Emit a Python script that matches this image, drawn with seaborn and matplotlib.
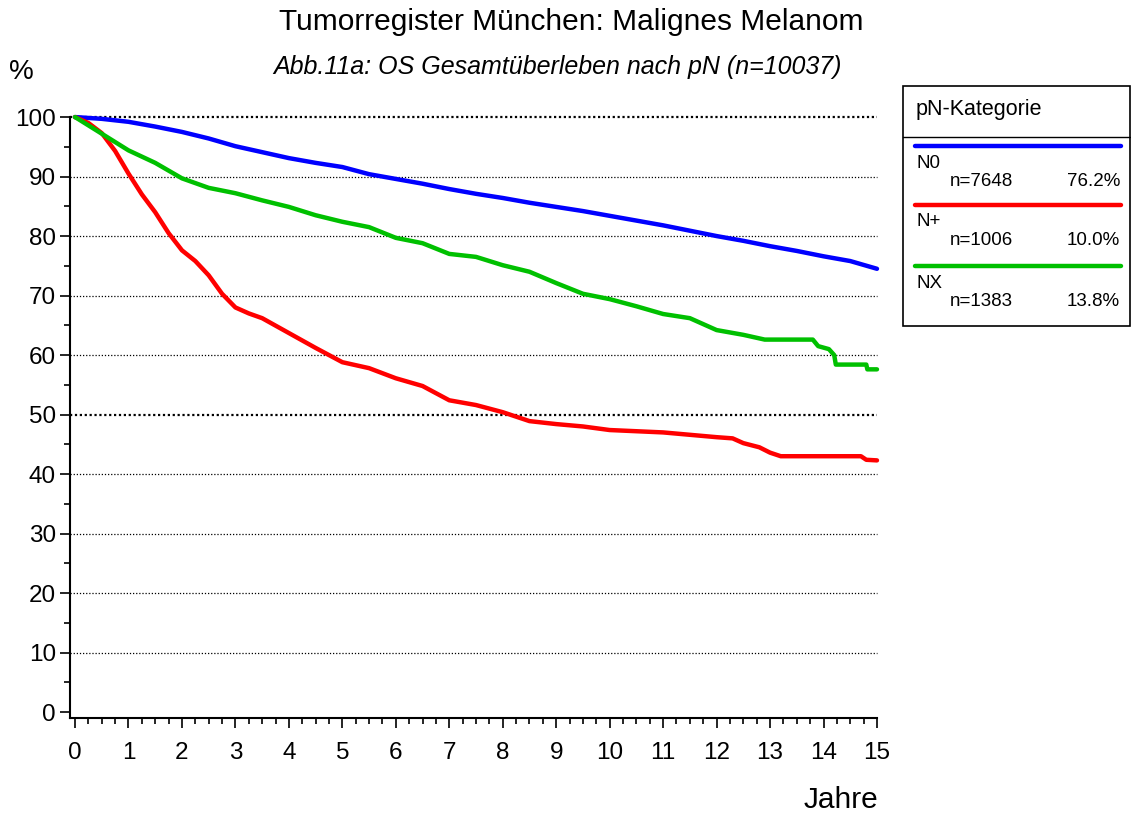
import numpy as np
import pandas as pd
import seaborn as sns
import matplotlib.pyplot as plt
from matplotlib.lines import Line2D
from matplotlib.patches import Rectangle
from matplotlib.ticker import MultipleLocator

# Survival curves (years, percent)
n0_years = [0, 0.5, 1, 1.5, 2, 2.5, 3, 3.5, 4, 4.5, 5, 5.5, 6, 6.5, 7, 7.5, 8, 8.5, 9, 9.5,
            10, 10.5, 11, 11.5, 12, 12.5, 13, 13.5, 14, 14.5, 15]
n0_surv = [100, 99.7, 99.2, 98.4, 97.5, 96.4, 95.1, 94.1, 93.1, 92.3, 91.6, 90.4, 89.6, 88.8, 87.9,
           87.1, 86.4, 85.6, 84.9, 84.2, 83.4, 82.6, 81.8, 80.9, 80.0, 79.2, 78.3, 77.5, 76.6, 75.8, 74.5]

np_years = [0, 0.25, 0.5, 0.75, 1, 1.25, 1.5, 1.75, 2, 2.25, 2.5, 2.75, 3, 3.25, 3.5, 4, 4.5, 5, 5.5,
            6, 6.5, 7, 7.5, 8, 8.5, 9, 9.5, 10, 10.5, 11, 11.5, 12, 12.3, 12.5, 12.8, 13, 13.2, 14.7, 14.8, 15]
np_surv = [100, 99.0, 97.3, 94.3, 90.5, 87.0, 84.0, 80.5, 77.6, 75.8, 73.4, 70.3, 68.0, 67.0, 66.2, 63.7,
           61.2, 58.8, 57.8, 56.1, 54.8, 52.4, 51.6, 50.4, 48.9, 48.4, 48.0, 47.4, 47.2, 47.0, 46.6,
           46.2, 46.0, 45.2, 44.5, 43.6, 43.0, 43.0, 42.4, 42.3]

nx_years = [0, 0.5, 1, 1.5, 2, 2.5, 3, 3.5, 4, 4.5, 5, 5.5, 6, 6.5, 7, 7.5, 8, 8.5, 9, 9.5, 10, 10.5,
            11, 11.5, 12, 12.5, 12.9, 13.8, 13.9, 14.1, 14.2, 14.23, 14.8, 14.82, 15]
nx_surv = [100, 97.2, 94.4, 92.3, 89.7, 88.1, 87.2, 86.0, 84.9, 83.5, 82.4, 81.5, 79.7, 78.8, 77.0,
           76.5, 75.1, 74.0, 72.1, 70.3, 69.4, 68.2, 66.9, 66.2, 64.2, 63.4, 62.6, 62.6, 61.5, 61.0,
           60.0, 58.4, 58.4, 57.6, 57.6]

groups = ["N0", "N+", "NX"]
group_n = ["n=7648", "n=1006", "n=1383"]
group_pct = ["76.2%", "10.0%", "13.8%"]
colors = ["#0000FF", "#FF0000", "#00C000"]

df = pd.concat([
    pd.DataFrame({"Jahre": n0_years, "Prozent": n0_surv, "pN": "N0"}),
    pd.DataFrame({"Jahre": np_years, "Prozent": np_surv, "pN": "N+"}),
    pd.DataFrame({"Jahre": nx_years, "Prozent": nx_surv, "pN": "NX"}),
])

sns.set_style("ticks")
plt.rcParams["font.family"] = ["Liberation Sans", "DejaVu Sans"]
plt.rcParams["text.color"] = "black"
plt.rcParams["xtick.color"] = "black"
plt.rcParams["ytick.color"] = "black"
plt.rcParams["axes.labelcolor"] = "black"

fig = plt.figure(figsize=(11.31, 8.14), dpi=100)
ax = fig.add_axes([0.0619, 0.1179, 0.7135, 0.7383])

# grid lines first so curves sit on top
for v in range(10, 101, 10):
    bold = v in (50, 100)
    ax.axhline(v, color="black", linestyle=(0, (1, 1.2)) if bold else (0, (1, 1.5)),
               linewidth=1.6 if bold else 0.9, zorder=1, clip_on=False)

sns.lineplot(data=df, x="Jahre", y="Prozent", hue="pN", palette=dict(zip(groups, colors)),
             sort=False, estimator=None, linewidth=3.2, legend=False, ax=ax, zorder=3)
for line in ax.lines:
    line.set_clip_on(False)

ax.set_xlim(-0.094, 15.0)
ax.set_ylim(-1, 100)
ax.set_xticks(range(0, 16))
ax.set_yticks(range(0, 101, 10))
ax.xaxis.set_minor_locator(MultipleLocator(0.25))
ax.yaxis.set_minor_locator(MultipleLocator(5))
ax.tick_params(axis="both", which="major", labelsize=17.5, length=7, width=1.2, colors="black")
ax.tick_params(axis="both", which="minor", length=4, width=1.2, colors="black")
ax.tick_params(axis="x", pad=10)
ax.tick_params(axis="y", pad=3)
ax.set_xlabel("")
ax.set_ylabel("")
sns.despine(ax=ax)
for s in ("left", "bottom"):
    ax.spines[s].set_linewidth(1.5)
    ax.spines[s].set_color("black")

fig.text(571 / 1131, 1 - 22 / 814, "Tumorregister München: Malignes Melanom",
         ha="center", va="center", fontsize=21.5)
fig.text(557 / 1131, 1 - 67 / 814, "Abb.11a: OS Gesamtüberleben nach pN (n=10037)",
         ha="center", va="center", fontsize=18, style="italic")
fig.text(9 / 1131, 1 - 72 / 814, "%", ha="left", va="center", fontsize=20)
fig.text(878 / 1131, 1 - 800 / 814, "Jahre", ha="right", va="center", fontsize=21.5)

# legend box
W, H = 1131, 814
fig.patches.append(Rectangle((903 / W, 1 - 326 / H), 227 / W, 240 / H, transform=fig.transFigure,
                             fill=False, edgecolor="black", linewidth=1.2))
fig.lines.append(Line2D([903 / W, 1130 / W], [1 - 137 / H, 1 - 137 / H], transform=fig.transFigure,
                        color="black", linewidth=1.0))
fig.text(916 / W, 1 - 110 / H, "pN-Kategorie", ha="left", va="center", fontsize=15.5)
line_y = [146, 205, 266]
for g, n, p, c, y in zip(groups, group_n, group_pct, colors, line_y):
    fig.lines.append(Line2D([915 / W, 1121 / W], [1 - y / H, 1 - y / H], transform=fig.transFigure,
                            color=c, linewidth=3.2))
    fig.text(916 / W, 1 - (y + 17) / H, g, ha="left", va="center", fontsize=13.5)
    fig.text(950 / W, 1 - (y + 36) / H, n, ha="left", va="center", fontsize=13.5)
    fig.text(1120 / W, 1 - (y + 36) / H, p, ha="right", va="center", fontsize=13.5)

fig.savefig("out.png", dpi=100)
